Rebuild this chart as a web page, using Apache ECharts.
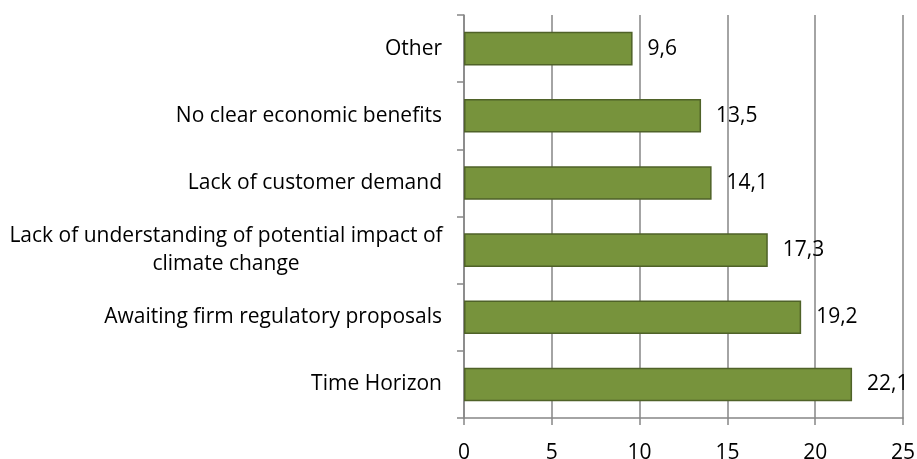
<!DOCTYPE html>
<html>
<head>
<meta charset="utf-8">
<script src="https://cdn.jsdelivr.net/npm/echarts@6/dist/echarts.min.js"></script>
<style>html,body{margin:0;padding:0;background:#fff}#c{width:917px;height:459px}</style>
</head>
<body>
<div id="c"></div>
<script>
var categories = [
  "Other",
  "No clear economic benefits",
  "Lack of customer demand",
  "Lack of understanding of potential impact of\nclimate change",
  "Awaiting firm regulatory proposals",
  "Time Horizon"
];
var values = [9.6, 13.5, 14.1, 17.3, 19.2, 22.1];
var xTicks = [0, 5, 10, 15, 20, 25];

var FONT = "Open Sans";
var FS = 21;
var chart = echarts.init(document.getElementById('c'), null, {renderer: 'canvas'});
chart.setOption({
  animation: false,
  grid: {left: 464, right: 14, top: 15, bottom: 41, containLabel: false, outerBoundsMode: 'none'},
  xAxis: {
    type: 'value', min: xTicks[0], max: xTicks[xTicks.length - 1], interval: 5,
    axisLine: {show: true, lineStyle: {color: '#868686', width: 1.5}},
    axisTick: {show: true, length: 7, lineStyle: {color: '#868686', width: 1.5}},
    axisLabel: {fontFamily: FONT, fontSize: FS, color: '#000', margin: 25},
    splitLine: {show: true, lineStyle: {color: '#868686', width: 1.5}}
  },
  yAxis: {
    type: 'category', data: categories, inverse: true,
    axisLine: {show: true, lineStyle: {color: '#868686', width: 1.5}},
    axisTick: {show: true, length: 7, lineStyle: {color: '#868686', width: 1.5}},
    axisLabel: {
      fontFamily: FONT, fontSize: FS, color: '#000', margin: 22, lineHeight: 28,
      formatter: function (v) {
        if (v.indexOf('\n') >= 0) {
          return v.split('\n').map(function (s) { return '{c|' + s + '}'; }).join('\n');
        }
        return v;
      },
      rich: {c: {width: 432, align: 'center', fontFamily: FONT, fontSize: FS, color: '#000', lineHeight: 28}}
    },
    splitLine: {show: false}
  },
  series: [{
    type: 'bar', data: values, barWidth: '50%',
    itemStyle: {color: '#77933C', borderColor: '#4F6228', borderWidth: 1.5},
    label: {
      show: true, position: 'right', distance: 15,
      fontFamily: FONT, fontSize: FS, color: '#000',
      formatter: function (p) { return String(p.value).replace('.', ','); }
    }
  }]
});
</script>
</body>
</html>
